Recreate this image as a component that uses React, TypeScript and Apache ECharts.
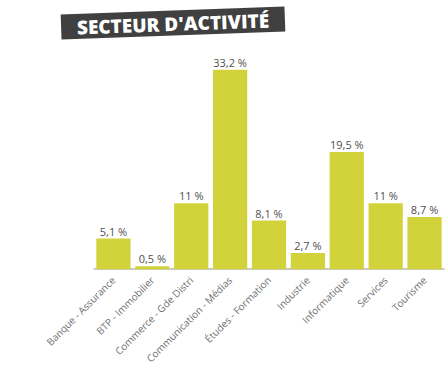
import React, { useEffect, useRef } from "react";
import * as echarts from "echarts";

const categories = [
  "Banque - Assurance",
  "BTP - Immobilier",
  "Commerce - Gde Distri",
  "Communication - Médias",
  "Études - Formation",
  "Industrie",
  "Informatique",
  "Services",
  "Tourisme",
];
const values = [5.1, 0.5, 11, 33.2, 8.1, 2.7, 19.5, 11, 8.7];
const valueLabels = ["5,1 %", "0,5 %", "11 %", "33,2 %", "8,1 %", "2,7 %", "19,5 %", "11 %", "8,7 %"];
const title = "SECTEUR D'ACTIVITÉ";

const LABEL_FONT = "'Open Sans', sans-serif";

export default function App() {
  const ref = useRef<HTMLDivElement>(null);
  useEffect(() => {
    if (!ref.current) return;
    const chart = echarts.init(ref.current, undefined, { renderer: "svg" });
    chart.setOption({
      animation: false,
      backgroundColor: "#ffffff",
      grid: { left: 94, right: 4, top: 29, bottom: 95, containLabel: false },
      xAxis: {
        type: "category",
        data: categories,
        axisLine: { show: true, lineStyle: { color: "#b8b8b8", width: 1.5 } },
        axisTick: { show: false },
        axisLabel: {
          rotate: 45,
          interval: 0,
          margin: 9,
          fontSize: 10,
          color: "#707070",
          fontFamily: LABEL_FONT,
        },
      },
      yAxis: {
        type: "value",
        min: 0,
        max: 40,
        show: false,
        splitLine: { show: false },
      },
      series: [
        {
          type: "bar",
          data: values,
          barCategoryGap: "12%",
          itemStyle: { color: "#d2d33a" },
          label: {
            show: true,
            position: "top",
            distance: 2,
            fontSize: 11,
            color: "#505050",
            fontFamily: LABEL_FONT,
            formatter: (p: any) => valueLabels[p.dataIndex],
          },
        },
      ],
      graphic: [
        {
          type: "group",
          x: 173,
          y: 23,
          rotation: 0.036,
          children: [
            {
              type: "rect",
              shape: { x: -112, y: -12.5, width: 224, height: 25 },
              style: { fill: "#404040" },
            },
            {
              type: "text",
              x: 0,
              y: 1,
              style: {
                text: title,
                fill: "#ffffff",
                font: "800 19px 'Open Sans', sans-serif",
                align: "center",
                verticalAlign: "middle",
              },
            },
          ],
        },
      ],
    });
    return () => chart.dispose();
  }, []);
  return (
    <div
      ref={ref}
      style={{ position: "absolute", left: 0, top: 0, width: 448, height: 366 }}
    />
  );
}
